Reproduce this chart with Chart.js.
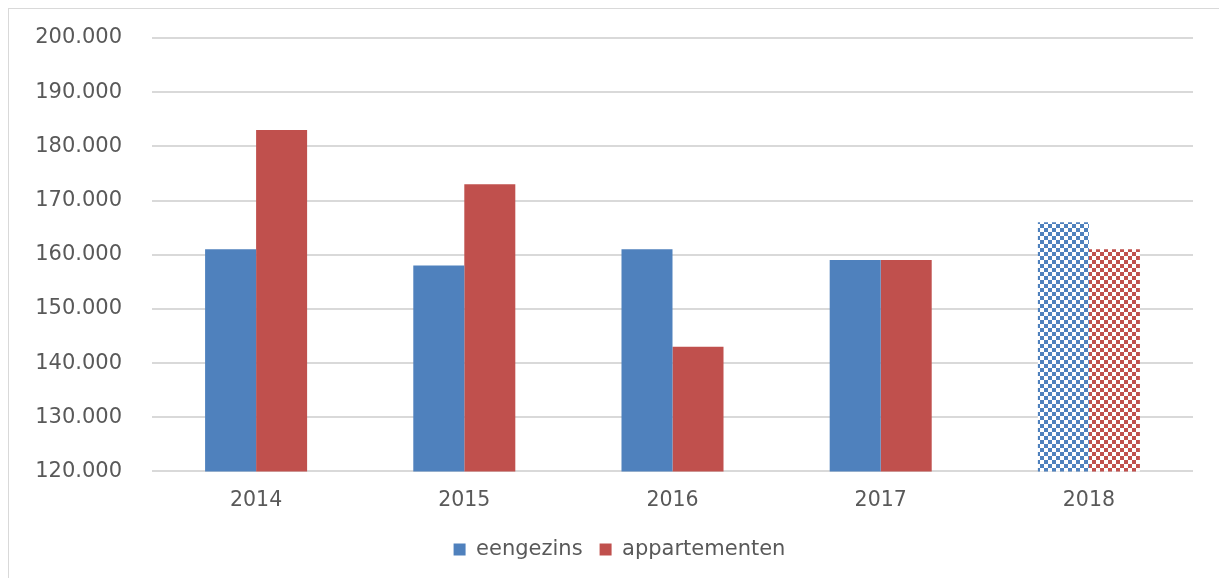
<!DOCTYPE html>
<html>
<head>
<meta charset="utf-8">
<script src="https://cdn.jsdelivr.net/npm/chart.js@4"></script>
<style>
  html, body { margin: 0; padding: 0; background: #fff; }
  body { width: 1219px; height: 578px; overflow: hidden; position: relative; }
  .frame { position: absolute; left: 8px; top: 8px; width: 1300px; height: 700px; border-left: 1px solid #d9d9d9; border-top: 1px solid #d9d9d9; }
  /* the original chart frame runs a bit past the right edge of the window */
  #chartBox { position: absolute; left: 0; top: 0; width: 1239px; height: 578px; }
</style>
</head>
<body>
<div class="frame"></div>
<div id="chartBox"><canvas id="woningChart"></canvas></div>
<script>
const years = ['2014', '2015', '2016', '2017', '2018'];
const eengezins = [161000, 158000, 161000, 159000, 166000];
const appartementen = [183000, 173000, 143000, 159000, 161000];
const yTicks = [120000, 130000, 140000, 150000, 160000, 170000, 180000, 190000, 200000];

const blue = '#4f81bd';
const red = '#c0504d';

// checkerboard fill for the last (estimated) year
function checker(color) {
    const c = document.createElement('canvas');
    c.width = 8;
    c.height = 8;
    const g = c.getContext('2d');
    g.fillStyle = '#ffffff';
    g.fillRect(0, 0, 8, 8);
    g.fillStyle = color;
    g.fillRect(0, 0, 4, 4);
    g.fillRect(4, 4, 4, 4);
    return g.createPattern(c, 'repeat');
}
const bluePattern = checker(blue);
const redPattern = checker(red);

const fontFamily = '"DejaVu Sans", Verdana, sans-serif';
const textColor = '#595959';

const ctx = document.getElementById('woningChart').getContext('2d');
const chart = new Chart(ctx, {
    type: 'bar',
    data: {
        labels: years,
        datasets: [{
            label: 'eengezins',
            data: eengezins,
            backgroundColor: c => c.dataIndex === 4 ? bluePattern : blue,
        }, {
            label: 'appartementen',
            data: appartementen,
            backgroundColor: c => c.dataIndex === 4 ? redPattern : red,
        }]
    },
    options: {
        responsive: true,
        maintainAspectRatio: false,
        animation: false,
        layout: { padding: { left: 0, right: 0, top: 38, bottom: 8 } },
        datasets: {
            bar: { categoryPercentage: 0.49, barPercentage: 1.0 }
        },
        scales: {
            x: {
                grid: { display: false },
                border: { display: false },
                ticks: { color: textColor, font: { family: fontFamily, size: 20.5 }, padding: 9 }
            },
            y: {
                min: 120000,
                max: 200000,
                afterFit: s => {
                    s.width = 152;
                    s.paddingTop = 12;
                    s.paddingBottom = 12;
                },
                afterBuildTicks: s => { s.ticks = yTicks.map(v => ({ value: v })); },
                grid: { color: '#d9d9d9', lineWidth: 2, drawTicks: false },
                border: { display: false },
                ticks: {
                    color: textColor,
                    padding: 30,
                    font: { family: fontFamily, size: 21 },
                    callback: v => v.toLocaleString('nl-NL')
                }
            },
            // empty spacer on the right so the plot ends where the original does
            spacer: {
                type: 'linear',
                position: 'right',
                grid: { display: false },
                border: { display: false },
                ticks: { display: false },
                afterFit: s => {
                    s.width = 46;
                    s.paddingTop = 0;
                    s.paddingBottom = 0;
                }
            }
        },
        plugins: {
            tooltip: { enabled: false },
            legend: {
                position: 'bottom',
                labels: {
                    color: textColor,
                    font: { family: fontFamily, size: 21 },
                    boxWidth: 12,
                    boxHeight: 12,
                    padding: 17
                }
            }
        }
    }
});
</script>
</body>
</html>
